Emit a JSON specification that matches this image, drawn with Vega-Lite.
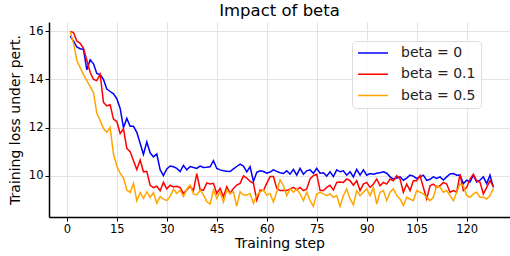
{
  "$schema": "https://vega.github.io/schema/vega-lite/v6.json",
  "autosize": {"type": "none"},
  "padding": {"left": 49, "top": 22, "right": 0, "bottom": 39},
  "width": 461,
  "height": 195,
  "title": {"text": "Impact of beta", "fontSize": 16.5, "font": "DejaVu Sans", "fontWeight": "normal", "color": "#000", "offset": 3},
  "config": {
    "font": "DejaVu Sans",
    "view": {"stroke": null},
    "axis": {"domainColor": "#000", "domainWidth": 1.5, "tickColor": "#000", "tickSize": 4, "labelColor": "#000", "labelFontSize": 11.5, "titleColor": "#000", "titleFontSize": 14, "titleFontWeight": "normal", "gridColor": "#e3e3e3", "gridWidth": 1}
  },
  "data": {"values": [
    {"step":1,"b0":15.8,"b1":16.0,"b5":16.0},
    {"step":2,"b0":15.6,"b1":15.95,"b5":15.5},
    {"step":3,"b0":15.35,"b1":15.6,"b5":14.8},
    {"step":4,"b0":15.28,"b1":15.5,"b5":14.5},
    {"step":5,"b0":15.25,"b1":15.3,"b5":14.2},
    {"step":6,"b0":14.4,"b1":14.8,"b5":13.95},
    {"step":7,"b0":14.82,"b1":14.3,"b5":13.7},
    {"step":8,"b0":14.65,"b1":14.0,"b5":13.45},
    {"step":9,"b0":14.25,"b1":13.95,"b5":12.6},
    {"step":10,"b0":14.2,"b1":14.22,"b5":12.3},
    {"step":11,"b0":14.0,"b1":13.05,"b5":11.96},
    {"step":12,"b0":13.6,"b1":12.9,"b5":11.8},
    {"step":13,"b0":13.5,"b1":12.95,"b5":12.0},
    {"step":14,"b0":13.4,"b1":12.35,"b5":10.9},
    {"step":15,"b0":13.2,"b1":12.25,"b5":10.4},
    {"step":16,"b0":12.8,"b1":11.75,"b5":10.1},
    {"step":17,"b0":12.0,"b1":11.95,"b5":9.9},
    {"step":18,"b0":12.38,"b1":11.13,"b5":9.4},
    {"step":19,"b0":12.05,"b1":11.0,"b5":9.3},
    {"step":20,"b0":12.05,"b1":10.62,"b5":9.68},
    {"step":21,"b0":11.8,"b1":10.25,"b5":8.95},
    {"step":22,"b0":11.35,"b1":10.65,"b5":9.3},
    {"step":23,"b0":10.88,"b1":10.16,"b5":9.05},
    {"step":24,"b0":11.4,"b1":10.18,"b5":9.33},
    {"step":25,"b0":10.95,"b1":9.6,"b5":9.1},
    {"step":26,"b0":10.78,"b1":9.5,"b5":9.29},
    {"step":27,"b0":10.9,"b1":9.56,"b5":8.85},
    {"step":28,"b0":10.25,"b1":9.37,"b5":9.13},
    {"step":29,"b0":10.0,"b1":9.72,"b5":9.02},
    {"step":30,"b0":10.28,"b1":9.45,"b5":8.96},
    {"step":31,"b0":10.4,"b1":9.6,"b5":9.15},
    {"step":32,"b0":10.37,"b1":9.53,"b5":9.43},
    {"step":33,"b0":10.3,"b1":9.56,"b5":9.26},
    {"step":34,"b0":10.17,"b1":9.5,"b5":9.4},
    {"step":35,"b0":10.43,"b1":9.26,"b5":9.13},
    {"step":36,"b0":10.24,"b1":9.4,"b5":9.43},
    {"step":37,"b0":10.38,"b1":9.56,"b5":9.61},
    {"step":38,"b0":10.34,"b1":9.38,"b5":9.24},
    {"step":39,"b0":10.3,"b1":10.08,"b5":9.2},
    {"step":40,"b0":10.4,"b1":9.43,"b5":9.4},
    {"step":41,"b0":10.34,"b1":9.39,"b5":9.2},
    {"step":42,"b0":10.35,"b1":9.7,"b5":8.92},
    {"step":43,"b0":10.37,"b1":9.65,"b5":8.82},
    {"step":44,"b0":10.62,"b1":9.68,"b5":9.4},
    {"step":45,"b0":10.3,"b1":9.26,"b5":9.05},
    {"step":46,"b0":10.24,"b1":9.47,"b5":9.33},
    {"step":47,"b0":10.2,"b1":9.12,"b5":8.9},
    {"step":48,"b0":10.18,"b1":9.54,"b5":9.4},
    {"step":49,"b0":10.17,"b1":9.26,"b5":9.26},
    {"step":50,"b0":10.28,"b1":9.47,"b5":9.33},
    {"step":51,"b0":10.38,"b1":9.61,"b5":8.72},
    {"step":52,"b0":10.48,"b1":9.68,"b5":9.33},
    {"step":53,"b0":10.4,"b1":9.99,"b5":9.19},
    {"step":54,"b0":10.16,"b1":9.9,"b5":9.19},
    {"step":55,"b0":10.37,"b1":9.76,"b5":9.26},
    {"step":56,"b0":9.76,"b1":9.68,"b5":8.85},
    {"step":57,"b0":10.14,"b1":8.98,"b5":9.19},
    {"step":58,"b0":10.2,"b1":9.4,"b5":9.33},
    {"step":59,"b0":10.17,"b1":9.38,"b5":9.4},
    {"step":60,"b0":10.1,"b1":9.68,"b5":9.19},
    {"step":61,"b0":10.15,"b1":9.96,"b5":9.26},
    {"step":62,"b0":10.24,"b1":9.96,"b5":8.9},
    {"step":63,"b0":10.18,"b1":9.47,"b5":9.33},
    {"step":64,"b0":10.12,"b1":9.38,"b5":9.82},
    {"step":65,"b0":10.09,"b1":9.38,"b5":9.58},
    {"step":66,"b0":10.2,"b1":9.38,"b5":9.17},
    {"step":67,"b0":10.06,"b1":9.45,"b5":9.45},
    {"step":68,"b0":10.26,"b1":9.51,"b5":9.31},
    {"step":69,"b0":10.02,"b1":9.41,"b5":9.45},
    {"step":70,"b0":10.3,"b1":9.51,"b5":9.24},
    {"step":71,"b0":10.06,"b1":9.38,"b5":8.96},
    {"step":72,"b0":10.2,"b1":9.45,"b5":9.31},
    {"step":73,"b0":10.24,"b1":9.86,"b5":8.96},
    {"step":74,"b0":10.1,"b1":10.0,"b5":8.72},
    {"step":75,"b0":10.3,"b1":10.06,"b5":9.24},
    {"step":76,"b0":10.1,"b1":9.38,"b5":9.31},
    {"step":77,"b0":10.12,"b1":9.38,"b5":9.24},
    {"step":78,"b0":9.98,"b1":9.51,"b5":9.17},
    {"step":79,"b0":10.16,"b1":9.6,"b5":9.24},
    {"step":80,"b0":9.96,"b1":9.4,"b5":9.1},
    {"step":81,"b0":10.24,"b1":9.72,"b5":9.17},
    {"step":82,"b0":10.16,"b1":9.74,"b5":8.72},
    {"step":83,"b0":10.2,"b1":9.72,"b5":9.17},
    {"step":84,"b0":10.02,"b1":9.86,"b5":9.45},
    {"step":85,"b0":10.16,"b1":9.79,"b5":9.03},
    {"step":86,"b0":9.95,"b1":9.6,"b5":8.78},
    {"step":87,"b0":10.26,"b1":9.79,"b5":9.38},
    {"step":88,"b0":10.02,"b1":9.38,"b5":9.17},
    {"step":89,"b0":10.24,"b1":9.65,"b5":9.31},
    {"step":90,"b0":10.02,"b1":9.72,"b5":9.45},
    {"step":91,"b0":10.09,"b1":9.51,"b5":9.17},
    {"step":92,"b0":10.06,"b1":9.65,"b5":9.51},
    {"step":93,"b0":10.1,"b1":9.86,"b5":8.82},
    {"step":94,"b0":10.12,"b1":9.58,"b5":9.31},
    {"step":95,"b0":10.16,"b1":9.72,"b5":9.38},
    {"step":96,"b0":10.1,"b1":9.65,"b5":8.96},
    {"step":97,"b0":9.95,"b1":9.86,"b5":9.31},
    {"step":98,"b0":9.86,"b1":9.79,"b5":9.45},
    {"step":99,"b0":9.9,"b1":10.0,"b5":9.17},
    {"step":100,"b0":9.95,"b1":9.86,"b5":9.03},
    {"step":101,"b0":9.81,"b1":9.31,"b5":8.75},
    {"step":102,"b0":9.9,"b1":9.65,"b5":9.1},
    {"step":103,"b0":10.02,"b1":9.38,"b5":9.03},
    {"step":104,"b0":9.98,"b1":9.79,"b5":8.96},
    {"step":105,"b0":9.88,"b1":9.79,"b5":9.38},
    {"step":106,"b0":9.95,"b1":10.0,"b5":9.31},
    {"step":107,"b0":10.02,"b1":9.51,"b5":9.24},
    {"step":108,"b0":9.8,"b1":9.03,"b5":9.1},
    {"step":109,"b0":9.85,"b1":9.58,"b5":8.96},
    {"step":110,"b0":9.95,"b1":9.65,"b5":9.1},
    {"step":111,"b0":9.88,"b1":9.51,"b5":9.58},
    {"step":112,"b0":9.95,"b1":9.58,"b5":9.51},
    {"step":113,"b0":9.82,"b1":9.72,"b5":9.31},
    {"step":114,"b0":9.95,"b1":9.65,"b5":9.38},
    {"step":115,"b0":10.07,"b1":9.31,"b5":9.17},
    {"step":116,"b0":10.09,"b1":9.38,"b5":8.96},
    {"step":117,"b0":10.02,"b1":9.31,"b5":9.31},
    {"step":118,"b0":10.03,"b1":10.06,"b5":9.65},
    {"step":119,"b0":9.67,"b1":9.38,"b5":9.58},
    {"step":120,"b0":9.81,"b1":9.51,"b5":9.17},
    {"step":121,"b0":9.74,"b1":9.86,"b5":9.1},
    {"step":122,"b0":10.02,"b1":10.06,"b5":9.24},
    {"step":123,"b0":9.74,"b1":9.79,"b5":9.31},
    {"step":124,"b0":9.81,"b1":9.72,"b5":9.1},
    {"step":125,"b0":9.95,"b1":9.24,"b5":9.1},
    {"step":126,"b0":9.67,"b1":9.51,"b5":9.03},
    {"step":127,"b0":10.02,"b1":9.79,"b5":9.17},
    {"step":128,"b0":9.51,"b1":9.55,"b5":9.47}
  ]},
  "transform": [{"fold": ["b0", "b1", "b5"], "as": ["series", "loss"]}],
  "mark": {"type": "line", "strokeWidth": 1.5, "clip": true},
  "encoding": {
    "x": {"field": "step", "type": "quantitative", "scale": {"domain": [-5.35, 133], "nice": false, "zero": false},
      "axis": {"values": [0, 15, 30, 45, 60, 75, 90, 105, 120], "title": "Training step", "titlePadding": 2, "labelPadding": 2}},
    "y": {"field": "loss", "type": "quantitative", "scale": {"domain": [8.28, 16.39], "nice": false, "zero": false},
      "axis": {"values": [10, 12, 14, 16], "title": "Training loss under pert.", "titlePadding": 6, "labelPadding": 2}},
    "color": {"field": "series", "type": "nominal",
      "scale": {"domain": ["b0", "b1", "b5"], "range": ["#0000ff", "#ff0000", "#ffa500"]},
      "legend": {"title": null, "orient": "none", "legendX": 303, "legendY": 19,
        "labelExpr": "datum.label == 'b0' ? 'beta = 0' : datum.label == 'b1' ? 'beta = 0.1' : 'beta = 0.5'",
        "symbolType": "stroke", "symbolSize": 900, "symbolStrokeWidth": 1.5, "labelFontSize": 14, "labelColor": "#222",
        "labelOffset": 12, "clipHeight": 14, "rowPadding": 7.3, "padding": 5, "strokeColor": "#dddddd", "fillColor": "rgba(255,255,255,0.8)", "cornerRadius": 4}}
  }
}
